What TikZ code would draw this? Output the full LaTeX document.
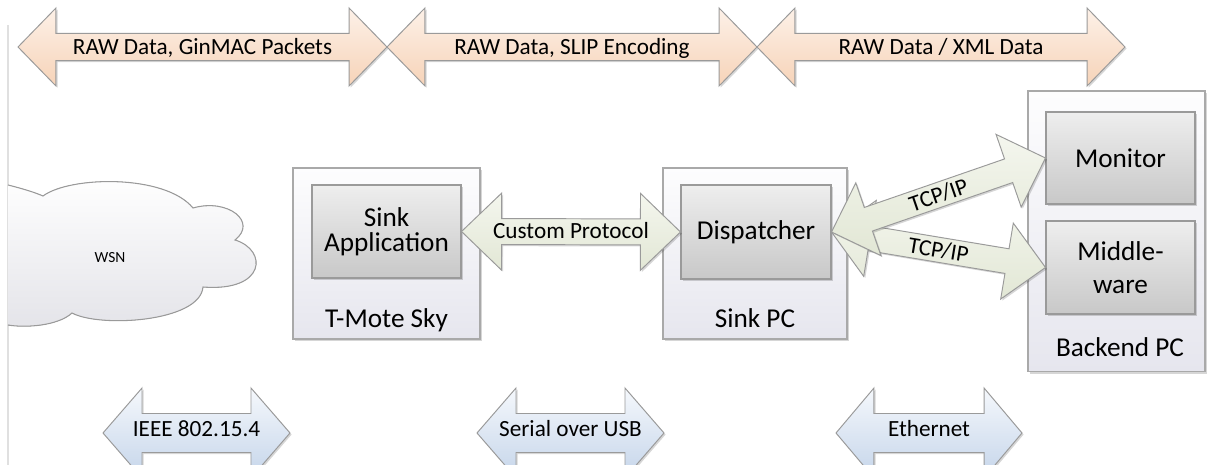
\documentclass[tikz,border=0pt]{standalone}
\usepackage{fontspec}
\setmainfont{Carlito}
\usetikzlibrary{calc,shadows}

\definecolor{peachtop}{HTML}{FDF1E8}
\definecolor{peachbot}{HTML}{F6D3B8}
\definecolor{greentop}{HTML}{F4F6EE}
\definecolor{greenbot}{HTML}{E2E7D5}
\definecolor{bluetop}{HTML}{F5F8FC}
\definecolor{bluebot}{HTML}{C5D5EA}
\definecolor{outertop}{HTML}{FDFDFE}
\definecolor{outerbot}{HTML}{E6E6EE}
\definecolor{innertop}{HTML}{EEEEEE}
\definecolor{innerbot}{HTML}{C8C8C8}
\definecolor{cloudtop}{HTML}{FFFFFF}
\definecolor{cloudbot}{HTML}{E4E4E9}
\definecolor{edgegray}{HTML}{9A9A9A}
\definecolor{faintline}{HTML}{E0E0E0}

\newcommand\px{0.56906pt}

% #1 style, #2 from, #3 to, #4 head length, #5 head half-width, #6 shaft half-width
\newcommand\blockarrow[6]{%
  \path[#1] let \p1=(#2), \p2=(#3),
    \n1={atan2(\y2-\y1,\x2-\x1)},
    \n2={veclen(\x2-\x1,\y2-\y1)},
    \n3={cos(\n1)}, \n4={sin(\n1)},
    \n5={\n2-(#4)} in
    (\p1)
    -- ({\x1+(#4)*\n3-(#5)*\n4},{\y1+(#4)*\n4+(#5)*\n3})
    -- ({\x1+(#4)*\n3-(#6)*\n4},{\y1+(#4)*\n4+(#6)*\n3})
    -- ({\x1+\n5*\n3-(#6)*\n4},{\y1+\n5*\n4+(#6)*\n3})
    -- ({\x1+\n5*\n3-(#5)*\n4},{\y1+\n5*\n4+(#5)*\n3})
    -- (\p2)
    -- ({\x1+\n5*\n3+(#5)*\n4},{\y1+\n5*\n4-(#5)*\n3})
    -- ({\x1+\n5*\n3+(#6)*\n4},{\y1+\n5*\n4-(#6)*\n3})
    -- ({\x1+(#4)*\n3+(#6)*\n4},{\y1+(#4)*\n4-(#6)*\n3})
    -- ({\x1+(#4)*\n3+(#5)*\n4},{\y1+(#4)*\n4-(#5)*\n3})
    -- cycle;
}

\tikzset{
  softshadow/.style={drop shadow={shadow xshift=0.9pt, shadow yshift=-0.9pt, fill=black, opacity=0.16}},
  lbl/.style={font=\fontsize{13.2}{15}\selectfont, text=black, inner sep=0pt},
  boxlbl/.style={font=\fontsize{15.5}{18.5}\selectfont, text=black, align=center, inner sep=0pt},
  outerbox/.style={draw=edgegray!85, top color=outertop, bottom color=outerbot, line width=0.6pt, softshadow},
  innerbox/.style={draw=edgegray, top color=innertop, bottom color=innerbot, line width=0.6pt, softshadow},
  peacharrow/.style={draw=edgegray, top color=peachtop, bottom color=peachbot, line width=0.55pt, softshadow},
  greenarrow/.style={draw=edgegray, top color=greentop, bottom color=greenbot, line width=0.55pt, softshadow},
  bluearrow/.style={draw=edgegray, top color=bluetop, bottom color=bluebot, line width=0.55pt, softshadow},
}

\begin{document}
\begin{tikzpicture}[x=0.02cm, y=-0.02cm]
\useasboundingbox (0,0) rectangle (1208,465);

% faint left edge line
\draw[faintline, line width=0.6pt] (8,25) -- (8,465);

% ---------- top layer arrows ----------
\coordinate (t1a) at (18,47);
\coordinate (t1b) at (387,47);
\coordinate (t2a) at (387,47);
\coordinate (t2b) at (757,47);
\coordinate (t3a) at (757,47);
\coordinate (t3b) at (1125,47);
\blockarrow{peacharrow}{t1a}{t1b}{21.6pt}{22.2pt}{7.7pt}
\blockarrow{peacharrow}{t2a}{t2b}{21.6pt}{22.2pt}{7.7pt}
\blockarrow{peacharrow}{t3a}{t3b}{21.6pt}{22.2pt}{7.7pt}
\node[lbl, anchor=base] (l1) at (202.5,55) {RAW Data, GinMAC Packets};
\node[lbl, anchor=base] (l2) at (572,55) {RAW Data, SLIP Encoding};
\node[lbl, anchor=base] (l3) at (941,55) {RAW Data / XML Data};

% ---------- cloud ----------
\fill[top color=cloudtop, bottom color=cloudbot]
  (8,185) .. controls (20,188) and (34,192) .. (43,196)
  .. controls (70,176) and (165,174) .. (193,208)
  .. controls (228,198) and (258,222) .. (235,240)
  .. controls (268,250) and (266,292) .. (203,287)
  .. controls (200,322) and (100,328) .. (72,313)
  .. controls (58,326) and (25,328) .. (8,325) -- cycle;
\draw[edgegray, line width=0.6pt]
  (8,185) .. controls (20,188) and (34,192) .. (43,196)
  .. controls (70,176) and (165,174) .. (193,208)
  .. controls (228,198) and (258,222) .. (235,240)
  .. controls (268,250) and (266,292) .. (203,287)
  .. controls (200,322) and (100,328) .. (72,313)
  .. controls (58,326) and (25,328) .. (8,325);
\node[font=\fontsize{8.8}{10}\selectfont, inner sep=0pt] (wsn) at (110,258) {WSN};

% ---------- outer boxes ----------
\node[outerbox, minimum width=187*\px, minimum height=171*\px] (tmote) at (386.5,253.5) {};
\node[outerbox, minimum width=184*\px, minimum height=171*\px] (sinkpc) at (755,253.5) {};
\node[outerbox, minimum width=177*\px, minimum height=281*\px] (backend) at (1116.5,231.5) {};

\node[boxlbl, anchor=base] (tmotelbl) at (386.5,328) {T-Mote Sky};
\node[boxlbl, anchor=base] (sinkpclbl) at (755,328) {Sink PC};
\node[boxlbl, anchor=base] (backendlbl) at (1120,357) {Backend PC};

% ---------- inner boxes ----------
\node[innerbox, minimum width=149*\px, minimum height=93*\px] (app) at (386.5,231.5) {};
\node[boxlbl, font=\fontsize{15.5}{14.2}\selectfont] at (app) {Sink\\Application};
\node[innerbox, minimum width=150*\px, minimum height=94*\px] (disp) at (756,232) {};
\node[boxlbl] at (disp) {Dispatcher};
\node[innerbox, minimum width=149*\px, minimum height=92*\px] (mon) at (1120.5,158) {};
\node[boxlbl] at (mon) {Monitor};
\node[innerbox, minimum width=149*\px, minimum height=93*\px] (mw) at (1120.5,267.5) {};
\node[boxlbl] at (mw) {Middle-\\ware};

% ---------- connectors ----------
\blockarrow{greenarrow}{app.east}{disp.west}{22.8pt}{21.9pt}{7.4pt}
\node[lbl, anchor=base] (cp) at ($(app.east)!0.5!(disp.west)+(0,7)$) {Custom Protocol};

\blockarrow{greenarrow}{disp.east}{mw.west}{22.2pt}{21.9pt}{7.1pt}
\blockarrow{greenarrow}{disp.east}{mon.west}{22.2pt}{21.9pt}{7.1pt}
\path (disp.east) -- (mon.west) node[lbl, midway, sloped] (tcp1) {TCP/IP};
\path (disp.east) -- (mw.west) node[lbl, midway, sloped] (tcp2) {TCP/IP};

% ---------- bottom physical layer arrows ----------
\coordinate (b1a) at (103,433);
\coordinate (b1b) at (290,433);
\coordinate (b2a) at (477,433);
\coordinate (b2b) at (664,433);
\coordinate (b3a) at (836,433);
\coordinate (b3b) at (1022,433);
\blockarrow{bluearrow}{b1a}{b1b}{22.2pt}{25.6pt}{11.1pt}
\blockarrow{bluearrow}{b2a}{b2b}{22.2pt}{25.6pt}{11.1pt}
\blockarrow{bluearrow}{b3a}{b3b}{21.6pt}{25.6pt}{11.1pt}
\node[lbl, anchor=base] (ieee) at (196.5,437) {IEEE 802.15.4};
\node[lbl, anchor=base] (usb) at (570.5,437) {Serial over USB};
\node[lbl, anchor=base] (eth) at (929,437) {Ethernet};
\end{tikzpicture}
\end{document}
